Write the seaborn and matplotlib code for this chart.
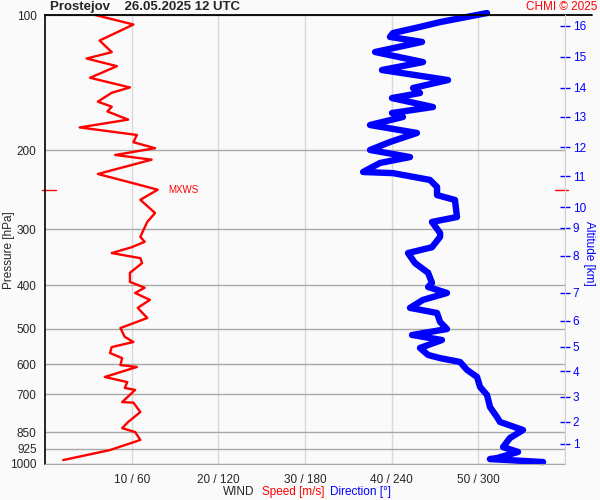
import numpy as np
import pandas as pd
import matplotlib
matplotlib.use("Agg")
import matplotlib.pyplot as plt
from matplotlib.ticker import NullLocator
import seaborn as sns

sns.set_style("white")
plt.rcParams["font.family"] = ["Liberation Sans", "DejaVu Sans"]

# wind speed profile [hPa, m/s]
speed_p = [100, 105, 114, 121, 125, 130, 138, 145, 149, 156, 160, 164, 171, 178,
           185, 192, 198, 205, 210, 226, 237, 245, 258, 276, 289, 303, 312, 320,
           329, 339, 348, 357, 375, 393, 405, 416, 431, 449, 473, 498, 521, 535,
           549, 566, 581, 602, 608, 640, 657, 677, 684, 728, 730, 766, 806, 832,
           849, 884, 931, 980]
speed_v = [5.8, 10.2, 6.3, 7.7, 4.8, 8.3, 5.2, 9.8, 7.7, 6.1, 7.7, 7.2, 9.6, 4.0,
           10.6, 10.2, 12.7, 8.1, 12.3, 6.1, 10.2, 13.0, 11.0, 12.7, 11.8, 11.3, 11.0, 11.5,
           10.0, 7.7, 11.0, 11.2, 9.8, 9.8, 11.5, 10.4, 12.1, 10.7, 11.8, 8.7, 9.2, 10.2,
           7.7, 7.5, 8.9, 8.7, 10.6, 6.9, 9.5, 9.2, 10.4, 8.9, 10.2, 11.0, 9.6, 8.9,
           10.4, 11.0, 7.5, 2.1]

# wind direction profile [hPa, deg]
dir_p = [99, 103.7, 106.3, 109.7, 111.9, 114.8, 120.9, 127.3, 132.6, 139.6, 145.4,
         149.2, 153.1, 160.3, 165.3, 168.7, 175.8, 183.1, 191.8, 199.8, 207.2, 213.6,
         223.7, 225, 233, 241.6, 251.8, 258.2, 281.8, 289, 305.9, 312, 329, 339, 357,
         375, 395, 403.5, 416, 431, 449, 461, 482.6, 500.5, 516, 529.5, 551.5, 571.7,
         581, 592.6, 617.4, 640, 673.7, 702, 747, 786, 806, 840, 875, 917, 940, 970,
         975, 990]
dir_v = [306, 273.5, 259.6, 240.9, 238.8, 261.0, 228.5, 261.7, 233.3, 279.0, 254.8,
         259.6, 240.2, 268.6, 240.2, 247.8, 225.0, 257.5, 238.8, 225.0, 252.7, 231.9,
         220.2, 240.9, 266.5, 271.4, 271.4, 283.8, 285.2, 267.9, 273.5, 273.5, 267.9, 251.3, 256.2,
         265.2, 267.9, 265.2, 278.3, 261.7, 252.7, 271.4, 273.5, 278.3, 254.1, 274.8, 259.6, 265.2,
         273.5, 287.3, 292.2, 299.1, 301.2, 306.0, 308.1, 312.9, 315.0, 330.9, 321.9, 317.1, 327.5, 312.9,
         308.0, 344.8]

p_ticks = [100, 200, 300, 400, 500, 600, 700, 850, 925, 1000]
x_ticks = [10, 20, 30, 40, 50, 60]
x_labels = ["10 / 60", "20 / 120", "30 / 180", "40 / 240", "50 / 300", ""]
alt_p = [902, 806, 709, 621, 548, 480, 416, 344, 298, 267.7, 228.4, 196.8, 168.7, 145.4, 124, 105.8]
alt_labels = [str(i) for i in range(1, 17)]
mxws_p = 245
mxws_v = 13.0

speed = pd.DataFrame({"p": speed_p, "v": speed_v})
wdir = pd.DataFrame({"p": dir_p, "d": dir_v})
wdir["v"] = wdir["d"] / 6.0  # 360 deg -> 60 m/s on the shared axis

bg = "#fafafa"
fig = plt.figure(figsize=(6, 5), dpi=100, facecolor=bg)
ax = fig.add_axes([0.075, 0.072, 0.8667, 0.898])
ax.set_facecolor(bg)

sns.lineplot(data=wdir, x="v", y="p", sort=False, estimator=None, color="#0000ff",
             linewidth=4.6, ax=ax, solid_joinstyle="round", solid_capstyle="round", clip_on=False)
sns.lineplot(data=speed, x="v", y="p", sort=False, estimator=None, color="#ff0000",
             linewidth=1.7, ax=ax, clip_on=False)

ax.set_yscale("log")
ax.set_ylim(1000, 100)
ax.set_xlim(0, 60)
ax.yaxis.set_minor_locator(NullLocator())
ax.set_yticks(p_ticks)
ax.set_yticklabels([str(p) for p in p_ticks], fontsize=8.5)
ax.set_xticks(x_ticks)
ax.set_xticklabels(x_labels, fontsize=8.5)
ax.tick_params(length=0)
ax.tick_params(axis="y", pad=6)
ax.tick_params(axis="x", pad=7)
ax.set_axisbelow(True)
ax.yaxis.grid(True, color="#a8a8a8", linewidth=1)
ax.xaxis.grid(True, color="#d8d8d8", linewidth=1)
ax.set_xlabel("")
ax.set_ylabel("")

for s in ["top", "right"]:
    ax.spines[s].set_visible(False)
ax.spines["left"].set_color("black")
ax.spines["left"].set_linewidth(1.2)
ax.spines["bottom"].set_color("#a8a8a8")
ax.plot([0, 1.052], [1, 1], transform=ax.transAxes, color="black", lw=1.3, clip_on=False)

# altitude axis
axr = ax.twinx()
axr.set_yscale("log")
axr.set_ylim(1000, 100)
axr.yaxis.set_minor_locator(NullLocator())
axr.set_yticks(alt_p)
axr.set_yticklabels(alt_labels, fontsize=8.5, color="#0000ff")
axr.tick_params(axis="y", colors="#0000ff", direction="inout", length=7, width=1, pad=2)
for s in ["top", "left", "bottom"]:
    axr.spines[s].set_visible(False)
axr.spines["right"].set_color("#d0d0d0")

# max wind marker
tr = ax.get_yaxis_transform()
ax.plot([-0.006, 0.021], [mxws_p, mxws_p], transform=tr, color="red", lw=1, clip_on=False)
ax.plot([0.981, 1.006], [mxws_p, mxws_p], transform=tr, color="red", lw=1, clip_on=False)
ax.text(mxws_v + 1.2, mxws_p, "MXWS", color="red", fontsize=7, va="center")

fig.text(0.015, 0.5, "Pressure [hPa]", fontsize=8.5, rotation=90, ha="center", va="center")
fig.text(0.982, 0.494, "Altitude [km]", fontsize=8.5, color="#0000ff", rotation=270,
         ha="center", va="center")
fig.text(0.083, 0.986, "Prostejov    26.05.2025 12 UTC", fontsize=9.5, fontweight="bold", va="center")
fig.text(0.995, 0.986, "CHMI © 2025", fontsize=8.5, color="red", ha="right", va="center")
fig.text(0.398, 0.016, "WIND", fontsize=8.5, ha="center", va="center")
fig.text(0.488, 0.016, "Speed [m/s]", fontsize=8.5, color="red", ha="center", va="center")
fig.text(0.600, 0.016, "Direction [°]", fontsize=8.5, color="#0000ff", ha="center", va="center")

fig.savefig("out.png", dpi=100, facecolor=bg)
